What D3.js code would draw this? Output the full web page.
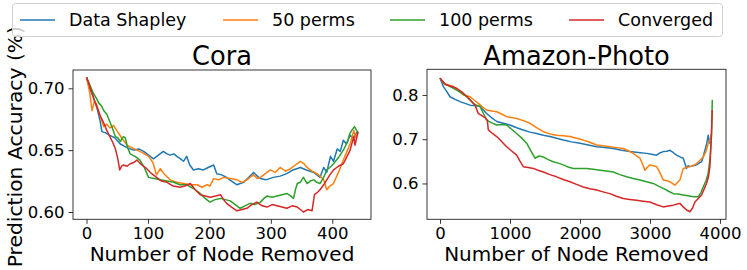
<!DOCTYPE html>
<html>
<head>
<meta charset="utf-8">
<script src="https://d3js.org/d3.v7.min.js"></script>
<style>
    body { margin: 0; background: #fff; }
    text { font-family: "DejaVu Sans", sans-serif; }
</style>
</head>
<body>
<div id="chart"></div>
<script>
// legend / series
var seriesNames = ["Data Shapley", "50 perms", "100 perms", "Converged"]
var seriesColors = ["#1f77b4", "#ff7f0e", "#2ca02c", "#d62728"]

// Cora: [nodes removed, accuracy]
var coraShapley = [[0,0.709],[5,0.700],[11,0.693],[17,0.684],[22,0.674],[25,0.665],[31,0.664],[38,0.662],[46,0.660],[55,0.655],[66,0.652],[77,0.650],[85,0.651],[93,0.649],[101,0.646],[109,0.643],[117,0.646],[125,0.649],[131,0.647],[136,0.646],[142,0.647],[147,0.645],[153,0.643],[158,0.641],[163,0.645],[168,0.638],[174,0.634],[182,0.635],[190,0.634],[198,0.636],[207,0.638],[212,0.631],[220,0.630],[228,0.628],[236,0.625],[245,0.622],[250,0.623],[256,0.624],[264,0.628],[272,0.632],[278,0.629],[283,0.627],[292,0.626],[304,0.628],[315,0.629],[326,0.631],[336,0.634],[348,0.636],[358,0.634],[370,0.632],[380,0.628],[386,0.636],[391,0.632],[397,0.645],[402,0.641],[408,0.651],[413,0.649],[418,0.658],[423,0.655],[429,0.662],[434,0.660],[441,0.665]]
var coraPerm50 = [[0,0.709],[5,0.697],[9,0.682],[13,0.690],[17,0.686],[22,0.678],[28,0.669],[33,0.671],[38,0.668],[44,0.670],[49,0.666],[57,0.660],[66,0.654],[74,0.652],[82,0.650],[91,0.648],[101,0.645],[108,0.640],[114,0.630],[120,0.635],[126,0.631],[136,0.626],[147,0.624],[158,0.623],[169,0.622],[180,0.622],[188,0.620],[196,0.622],[201,0.621],[207,0.627],[215,0.626],[223,0.628],[234,0.627],[245,0.626],[253,0.624],[261,0.626],[266,0.628],[272,0.630],[278,0.627],[283,0.628],[291,0.631],[299,0.634],[307,0.632],[315,0.636],[324,0.633],[332,0.635],[340,0.638],[348,0.641],[354,0.639],[359,0.636],[367,0.633],[375,0.631],[380,0.629],[386,0.626],[391,0.618],[396,0.621],[402,0.623],[410,0.632],[418,0.642],[423,0.648],[429,0.655],[435,0.666],[438,0.660],[442,0.664]]
var coraPerm100 = [[0,0.709],[6,0.702],[11,0.696],[16,0.692],[20,0.688],[24,0.686],[28,0.682],[33,0.679],[38,0.673],[42,0.668],[47,0.661],[51,0.660],[55,0.657],[60,0.661],[63,0.660],[67,0.652],[71,0.647],[79,0.645],[87,0.642],[94,0.636],[101,0.628],[110,0.627],[120,0.626],[131,0.625],[142,0.624],[152,0.622],[163,0.622],[174,0.619],[185,0.615],[193,0.611],[201,0.608],[209,0.610],[218,0.611],[226,0.610],[234,0.609],[242,0.606],[250,0.603],[258,0.605],[266,0.607],[274,0.606],[283,0.608],[289,0.611],[294,0.613],[302,0.612],[310,0.613],[318,0.614],[326,0.615],[332,0.613],[337,0.611],[340,0.618],[343,0.623],[348,0.624],[353,0.628],[359,0.623],[364,0.625],[370,0.626],[375,0.624],[380,0.623],[386,0.628],[391,0.634],[396,0.636],[402,0.639],[410,0.644],[418,0.650],[424,0.656],[429,0.664],[436,0.669],[442,0.664]]
var coraConverged = [[0,0.709],[5,0.702],[9,0.696],[13,0.690],[17,0.685],[22,0.678],[28,0.672],[33,0.666],[38,0.661],[43,0.656],[47,0.651],[51,0.643],[54,0.634],[57,0.637],[60,0.638],[66,0.637],[71,0.639],[77,0.640],[82,0.642],[90,0.638],[98,0.635],[106,0.631],[114,0.628],[122,0.625],[131,0.624],[141,0.621],[152,0.620],[160,0.621],[169,0.623],[177,0.618],[185,0.614],[193,0.613],[201,0.612],[210,0.613],[218,0.614],[223,0.610],[228,0.607],[236,0.604],[245,0.601],[253,0.602],[261,0.603],[269,0.606],[277,0.608],[286,0.605],[294,0.604],[302,0.606],[310,0.605],[318,0.604],[326,0.603],[335,0.605],[343,0.604],[348,0.602],[353,0.600],[360,0.602],[367,0.601],[371,0.614],[376,0.616],[380,0.618],[386,0.622],[391,0.626],[396,0.630],[402,0.634],[410,0.637],[418,0.639],[424,0.645],[429,0.650],[435,0.661],[437,0.654],[442,0.665]]

// Amazon-Photo: [nodes removed, accuracy]
var amazonShapley = [[0,0.838],[48,0.819],[95,0.808],[143,0.796],[215,0.790],[286,0.785],[357,0.781],[428,0.777],[500,0.776],[571,0.774],[620,0.766],[666,0.758],[740,0.748],[810,0.740],[905,0.736],[1000,0.732],[1095,0.726],[1190,0.721],[1285,0.716],[1380,0.713],[1476,0.709],[1571,0.706],[1666,0.702],[1762,0.698],[1880,0.694],[2000,0.691],[2120,0.687],[2237,0.683],[2355,0.681],[2475,0.679],[2595,0.675],[2714,0.672],[2830,0.670],[2950,0.668],[3020,0.666],[3094,0.664],[3140,0.669],[3190,0.672],[3240,0.673],[3285,0.675],[3330,0.670],[3380,0.664],[3430,0.660],[3475,0.657],[3500,0.645],[3522,0.634],[3545,0.640],[3570,0.638],[3620,0.640],[3666,0.642],[3700,0.646],[3737,0.649],[3760,0.660],[3785,0.675],[3810,0.690],[3832,0.709],[3845,0.695],[3860,0.690]]
var amazonPerm50 = [[0,0.838],[71,0.823],[130,0.822],[190,0.819],[260,0.810],[333,0.800],[380,0.798],[428,0.796],[490,0.788],[547,0.781],[605,0.773],[666,0.766],[740,0.764],[810,0.762],[880,0.757],[952,0.751],[1020,0.749],[1095,0.747],[1190,0.742],[1285,0.736],[1380,0.726],[1476,0.717],[1570,0.712],[1666,0.709],[1760,0.708],[1857,0.706],[1950,0.702],[2047,0.698],[2140,0.693],[2237,0.687],[2330,0.685],[2428,0.683],[2520,0.681],[2618,0.679],[2690,0.674],[2761,0.668],[2810,0.662],[2857,0.657],[2890,0.645],[2928,0.630],[2960,0.636],[3000,0.642],[3050,0.640],[3094,0.638],[3140,0.625],[3190,0.608],[3240,0.606],[3285,0.604],[3320,0.600],[3356,0.596],[3390,0.602],[3428,0.608],[3450,0.620],[3475,0.634],[3520,0.636],[3570,0.638],[3620,0.641],[3666,0.645],[3710,0.652],[3760,0.660],[3800,0.672],[3832,0.691],[3860,0.700],[3880,0.713]]
var amazonPerm100 = [[0,0.838],[50,0.828],[95,0.823],[165,0.817],[238,0.811],[310,0.804],[380,0.796],[428,0.789],[476,0.781],[520,0.777],[571,0.774],[620,0.758],[666,0.743],[740,0.737],[810,0.732],[880,0.733],[952,0.732],[1020,0.723],[1095,0.713],[1165,0.703],[1238,0.691],[1300,0.673],[1357,0.657],[1415,0.662],[1476,0.660],[1545,0.654],[1619,0.649],[1690,0.646],[1762,0.642],[1830,0.637],[1904,0.634],[2000,0.634],[2095,0.634],[2190,0.632],[2285,0.630],[2380,0.628],[2475,0.626],[2570,0.620],[2666,0.615],[2760,0.611],[2857,0.608],[2950,0.604],[3047,0.600],[3120,0.594],[3190,0.589],[3260,0.583],[3332,0.577],[3400,0.576],[3475,0.574],[3545,0.572],[3618,0.570],[3690,0.570],[3730,0.580],[3760,0.592],[3800,0.606],[3832,0.623],[3860,0.660],[3880,0.713],[3890,0.789]]
var amazonConverged = [[0,0.838],[50,0.828],[95,0.823],[165,0.819],[238,0.815],[285,0.810],[333,0.804],[380,0.797],[428,0.789],[465,0.783],[500,0.777],[547,0.758],[580,0.755],[619,0.751],[650,0.748],[676,0.743],[690,0.721],[750,0.713],[810,0.706],[880,0.695],[952,0.683],[1020,0.674],[1095,0.664],[1140,0.651],[1190,0.638],[1260,0.636],[1333,0.634],[1400,0.630],[1476,0.626],[1570,0.620],[1666,0.615],[1760,0.609],[1857,0.604],[1950,0.598],[2047,0.592],[2140,0.588],[2237,0.585],[2330,0.581],[2428,0.577],[2520,0.571],[2618,0.566],[2710,0.564],[2809,0.562],[2900,0.560],[3000,0.558],[3095,0.552],[3190,0.547],[3260,0.549],[3332,0.551],[3380,0.553],[3428,0.555],[3475,0.547],[3522,0.540],[3570,0.536],[3610,0.545],[3642,0.558],[3690,0.566],[3737,0.574],[3770,0.586],[3808,0.600],[3835,0.615],[3856,0.638],[3875,0.700],[3890,0.766]]

var coraSeries = [coraShapley, coraPerm50, coraPerm100, coraConverged]
var amazonSeries = [amazonShapley, amazonPerm50, amazonPerm100, amazonConverged]

var coraXTicks = [0, 100, 200, 300, 400]
var coraYTicks = [0.60, 0.65, 0.70]
var amazonXTicks = [0, 1000, 2000, 3000, 4000]
var amazonYTicks = [0.6, 0.7, 0.8]

var width = 747
var height = 270

var svg = d3.select("#chart")
    .append("svg")
    .attr("width", width)
    .attr("height", height)

// panel setup
var panels = [
    { title: "Cora", series: coraSeries, left: 73, right: 371, top: 70, bottom: 219.3,
      xDomain: [-22, 463], yDomain: [0.5941, 0.7148], xTicks: coraXTicks, yTicks: coraYTicks, yFmt: ".2f" },
    { title: "Amazon-Photo", series: amazonSeries, left: 427, right: 726, top: 69.3, bottom: 219.3,
      xDomain: [-186, 4086], yDomain: [0.519, 0.858], xTicks: amazonXTicks, yTicks: amazonYTicks, yFmt: ".1f" }
]

panels.forEach(function(p) {
    var x = d3.scaleLinear().domain(p.xDomain).range([p.left, p.right])
    var y = d3.scaleLinear().domain(p.yDomain).range([p.bottom, p.top])

    var xAxis = svg.append("g")
        .attr("transform", "translate(0," + p.bottom + ")")
        .call(d3.axisBottom(x).tickValues(p.xTicks).tickFormat(d3.format("d")).tickSize(4.5).tickPadding(3.5))
    var yAxis = svg.append("g")
        .attr("transform", "translate(" + p.left + ",0)")
        .call(d3.axisLeft(y).tickValues(p.yTicks).tickFormat(d3.format(p.yFmt)).tickSize(4.5).tickPadding(4))

    ;[xAxis, yAxis].forEach(function(a) {
        a.select(".domain").remove()
        a.selectAll("text").attr("font-size", 16.5).attr("fill", "#000").style("font-family", "DejaVu Sans")
        a.selectAll("line").attr("stroke", "#000").attr("stroke-width", 0.8)
    })

    var clipId = "clip" + p.left
    svg.append("clipPath").attr("id", clipId)
        .append("rect")
        .attr("x", p.left).attr("y", p.top)
        .attr("width", p.right - p.left).attr("height", p.bottom - p.top)

    var line = d3.line()
        .x(function(d) { return x(d[0]) })
        .y(function(d) { return y(d[1]) })

    svg.append("g")
        .attr("clip-path", "url(#" + clipId + ")")
        .selectAll("path")
        .data(p.series)
        .enter()
        .append("path")
        .attr("d", line)
        .attr("fill", "none")
        .attr("stroke", function(d, i) { return seriesColors[i] })
        .attr("stroke-width", 1.5)
        .attr("stroke-linejoin", "round")

    // frame
    svg.append("rect")
        .attr("x", p.left).attr("y", p.top)
        .attr("width", p.right - p.left).attr("height", p.bottom - p.top)
        .attr("fill", "none")
        .attr("stroke", "#222")
        .attr("stroke-width", 0.9)

    // title
    svg.append("text")
        .attr("x", (p.left + p.right) / 2)
        .attr("y", 65)
        .attr("text-anchor", "middle")
        .attr("font-size", 25.7)
        .text(p.title)

    // x label
    svg.append("text")
        .attr("x", (p.left + p.right) / 2)
        .attr("y", 261)
        .attr("text-anchor", "middle")
        .attr("font-size", 20)
        .text("Number of Node Removed")
})

// y label for left panel
svg.append("text")
    .attr("transform", "translate(22," + ((70 + 219.3) / 2 + 2) + ") rotate(-90)")
    .attr("text-anchor", "middle")
    .attr("font-size", 20.3)
    .text("Prediction Accuracy (%)")

// legend
var legend = svg.append("g")
legend.append("rect")
    .attr("x", 12.5).attr("y", 3.5)
    .attr("width", 710).attr("height", 33)
    .attr("rx", 3)
    .attr("fill", "#fff").attr("fill-opacity", 0.8)
    .attr("stroke", "#d0d0d0")

var legendX = [20, 223, 390, 569]
seriesNames.forEach(function(name, i) {
    legend.append("line")
        .attr("x1", legendX[i]).attr("x2", legendX[i] + 35)
        .attr("y1", 20).attr("y2", 20)
        .attr("stroke", seriesColors[i])
        .attr("stroke-width", 1.5)
    legend.append("text")
        .attr("x", legendX[i] + 49)
        .attr("y", 26.3)
        .attr("font-size", 17.5)
        .text(name)
})
</script>
</body>
</html>
